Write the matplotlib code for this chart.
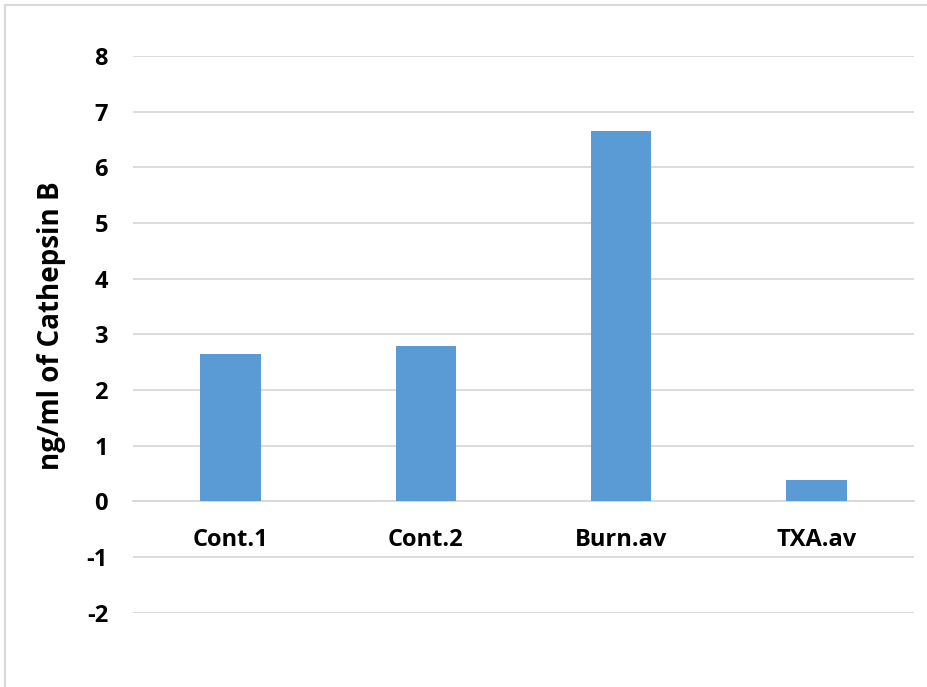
import matplotlib.pyplot as plt
from matplotlib.lines import Line2D

groups = ["Cont.1", "Cont.2", "Burn.av", "TXA.av"]
cathepsin_b = [2.65, 2.79, 6.65, 0.38]
y_ticks = [-2, -1, 0, 1, 2, 3, 4, 5, 6, 7, 8]

plt.rcParams["font.family"] = ["Open Sans", "DejaVu Sans"]
plt.rcParams["font.weight"] = "bold"

fig = plt.figure(figsize=(9.27, 6.87), dpi=100)
ax = fig.add_axes([133 / 927, 1 - 612.7 / 687, 781 / 927, (612.7 - 56) / 687])

x = list(range(len(groups)))
ax.bar(x, cathepsin_b, width=0.31, color="#5B9BD5", zorder=3)

ax.set_xlim(-0.5, len(groups) - 0.5)
ax.set_ylim(-2, 8)
ax.set_yticks(y_ticks)
ax.set_yticklabels([str(v) for v in y_ticks], fontsize=17, fontweight="bold")
ax.yaxis.grid(True, color="#D9D9D9", linewidth=1.3, zorder=0)
ax.set_axisbelow(True)

# category labels sit just under the zero line
ax.spines["bottom"].set_position(("data", 0))
ax.spines["bottom"].set_color("#D9D9D9")
ax.spines["bottom"].set_linewidth(1.3)
for side in ["top", "right", "left"]:
    ax.spines[side].set_visible(False)
ax.set_xticks(x)
ax.set_xticklabels(groups, fontsize=17, fontweight="bold")
ax.tick_params(axis="x", length=0, pad=19)
ax.tick_params(axis="y", length=0, pad=18)

ax.set_ylabel("ng/ml of Cathepsin B", fontsize=20, fontweight="bold")
ax.yaxis.set_label_coords(-0.086, 0.515)

# light frame around the chart area
frame = "#D9D9D9"
fig.add_artist(Line2D([5 / 927, 5 / 927], [0, 1 - 5 / 687], transform=fig.transFigure, color=frame, lw=1.5))
fig.add_artist(Line2D([5 / 927, 1], [1 - 5 / 687, 1 - 5 / 687], transform=fig.transFigure, color=frame, lw=1.5))

fig.savefig("out.png", dpi=100)
